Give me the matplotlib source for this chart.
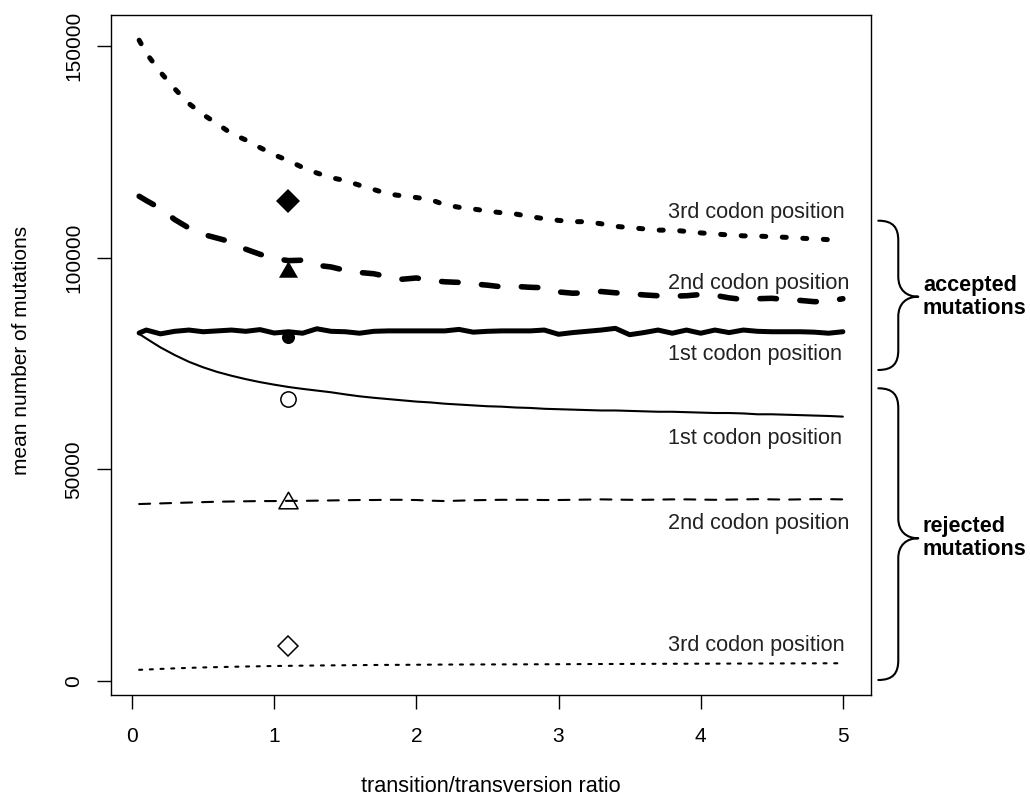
import numpy as np
import matplotlib
matplotlib.use('Agg')
import matplotlib.pyplot as plt
from matplotlib.path import Path
from matplotlib.patches import PathPatch
from matplotlib.transforms import blended_transform_factory

plt.rcParams['font.family'] = ['Liberation Sans', 'DejaVu Sans']
plt.rcParams['lines.scale_dashes'] = False

# ---------------- data ----------------
ratio = [0.05] + [round(0.1 * i, 1) for i in range(1, 51)]

acc_3rd = [151370, 148300, 143800, 139900, 136400, 133800, 131600, 129300, 127800, 126000,
           124300, 122900, 121300, 120000, 118900, 118200, 117100, 116100, 115050, 114600,
           114200, 113700, 112500, 111900, 111500, 111000, 110600, 110300, 109700, 109200,
           108800, 108500, 108500, 108000, 107400, 107100, 106800, 106500, 106500, 106200,
           105850, 105600, 105350, 105150, 105100, 104950, 104800, 104600, 104450, 104250,
           104000]

acc_2nd = [114500, 113500, 111600, 109000, 107000, 105500, 104600, 103700, 102000, 100800,
           99800, 99300, 99400, 98200, 97800, 97000, 96500, 96200, 95500, 94900,
           95200, 94600, 94300, 94150, 93800, 93500, 93100, 93200, 93000, 92900,
           91900, 91600, 91700, 92000, 91700, 91500, 91200, 91000, 90900, 91000,
           91300, 91100, 90500, 90100, 90300, 90400, 90100, 89900, 89600, 89700,
           90300]

acc_1st = [82200, 82900, 82000, 82600, 82900, 82500, 82700, 82900, 82600, 83000,
           82200, 82500, 82150, 83200, 82600, 82500, 82150, 82600, 82700, 82700,
           82700, 82700, 82700, 83050, 82400, 82600, 82700, 82700, 82700, 82900,
           81900, 82300, 82600, 82900, 83300, 81800, 82300, 82900, 82150, 82900,
           82150, 82900, 82300, 82900, 82600, 82500, 82500, 82500, 82400, 82150,
           82500]

rej_1st = [82000, 80900, 78800, 77000, 75400, 74100, 73000, 72100, 71300, 70600,
           70000, 69450, 69000, 68600, 68200, 67700, 67250, 66900, 66600, 66300,
           66000, 65800, 65500, 65300, 65100, 64900, 64800, 64600, 64500, 64300,
           64200, 64100, 64000, 63900, 63900, 63800, 63700, 63600, 63600, 63500,
           63400, 63300, 63300, 63200, 63000, 63000, 62900, 62800, 62700, 62600,
           62450]

rej_2nd = [41800, 41850, 41950, 42050, 42150, 42250, 42350, 42400, 42450, 42500,
           42500, 42550, 42550, 42600, 42650, 42700, 42750, 42750, 42800, 42800,
           42750, 42600, 42500, 42600, 42700, 42750, 42800, 42800, 42800, 42750,
           42750, 42800, 42850, 42900, 42850, 42800, 42800, 42850, 42900, 42900,
           42850, 42800, 42850, 42900, 42950, 42900, 42850, 42900, 42950, 42950,
           42900]

rej_3rd = [2640, 2700, 2850, 2980, 3100, 3200, 3280, 3350, 3420, 3480,
           3540, 3580, 3620, 3660, 3690, 3720, 3750, 3780, 3800, 3820,
           3840, 3860, 3880, 3890, 3900, 3910, 3920, 3930, 3940, 3950,
           3960, 3980, 4000, 4010, 4020, 4040, 4050, 4060, 4070, 4080,
           4090, 4100, 4110, 4120, 4130, 4140, 4150, 4160, 4170, 4180,
           4190]

point_x = 1.1
point_acc = [81190, 97320, 113320]   # 1st, 2nd, 3rd codon position (accepted)
point_rej = [66610, 42760, 8270]     # 1st, 2nd, 3rd codon position (rejected)

label_names = ['1st codon position', '2nd codon position', '3rd codon position']
label_x = 3.77
label_acc_y = [77010, 93950, 110620]
label_rej_y = [57330, 37250, 8500]

xticks = [0, 1, 2, 3, 4, 5]
yticks = [0, 50000, 100000, 150000]
group_labels = ['accepted\nmutations', 'rejected\nmutations']
xlabel = 'transition/transversion ratio'
ylabel = 'mean number of mutations'

# ---------------- figure ----------------
W, H = 1030, 799
fig = plt.figure(figsize=(W / 100, H / 100), dpi=100)
ax = fig.add_axes([111 / W, 1 - 695 / H, 760 / W, 680 / H])

FS = 15
FS_TXT = 15.6
lw_thick = 3.6
lw_thin = 1.5

# accepted (thick)
ax.plot(ratio, acc_3rd, color='k', lw=lw_thick, dashes=(2.9, 11.9),
        dash_capstyle='round', solid_capstyle='round')
ax.plot(ratio, acc_2nd, color='k', lw=4.0, dashes=(11.9, 16.9),
        dash_capstyle='round', solid_capstyle='round')
ax.plot(ratio, acc_1st, color='k', lw=lw_thick, solid_capstyle='round',
        solid_joinstyle='round')
# rejected (thin)
ax.plot(ratio, rej_1st, color='k', lw=lw_thin, solid_capstyle='round')
ax.plot(ratio, rej_2nd, color='k', lw=lw_thin, dashes=(7.9, 7.2),
        dash_capstyle='round')
ax.plot(ratio, rej_3rd, color='k', lw=lw_thin, dashes=(2.2, 5.5),
        dash_capstyle='round')

tri = Path([(0, 0.866), (-1, -0.866), (1, -0.866), (0, 0.866)],
           [Path.MOVETO, Path.LINETO, Path.LINETO, Path.CLOSEPOLY])
# filled points (accepted)
ax.plot([point_x], [point_acc[0]], marker='o', ms=9.4, mfc='k', mec='k', mew=0, ls='none')
ax.plot([point_x], [point_acc[1]], marker=tri, ms=13.7, mfc='k', mec='k', mew=0, ls='none')
ax.plot([point_x], [point_acc[2]], marker='D', ms=11.8, mfc='k', mec='k', mew=0, ls='none')
# open points (rejected)
ax.plot([point_x], [point_rej[0]], marker='o', ms=11, mfc='white', mec='k', mew=1.1, ls='none')
ax.plot([point_x], [point_rej[1]], marker=tri, ms=13.8, mfc='none', mec='k', mew=1.1, ls='none')
ax.plot([point_x], [point_rej[2]], marker='D', ms=10.3, mfc='white', mec='k', mew=1.1, ls='none')

# curve labels
for name, y in zip(label_names, label_acc_y):
    ax.text(label_x, y, name, ha='left', va='center', fontsize=FS_TXT, color='#222222')
for name, y in zip(label_names, label_rej_y):
    ax.text(label_x, y, name, ha='left', va='center', fontsize=FS_TXT, color='#222222')

# limits like R (4% extension)
allx = np.array(ratio)
ally = np.concatenate([acc_1st, acc_2nd, acc_3rd, rej_1st, rej_2nd, rej_3rd])
dx = 0.04 * (allx.max() - allx.min())
dy = 0.04 * (ally.max() - ally.min())
ax.set_xlim(allx.min() - dx, allx.max() + dx)
ax.set_ylim(ally.min() - dy, ally.max() + dy)

ax.set_xticks(xticks)
ax.set_xticklabels([str(t) for t in xticks])
ax.set_yticks(yticks)
ax.set_yticklabels([str(t) for t in yticks], rotation=90, va='center')
ax.tick_params(direction='out', length=10, width=1.0, labelsize=FS, colors='k')
ax.tick_params(axis='x', pad=13)
ax.tick_params(axis='y', pad=10)
for s in ax.spines.values():
    s.set_linewidth(1.0)

ax.set_xlabel(xlabel, fontsize=FS_TXT)
ax.xaxis.set_label_coords(0.5, (695 - 787) / 680)
ax.xaxis.label.set_va('center')
ax.set_ylabel(ylabel, fontsize=FS)
ax.yaxis.set_label_coords((22 - 111) / 760, (695 - 350) / 680)
ax.yaxis.label.set_va('center')

# braces
blend = blended_transform_factory(ax.transAxes, ax.transData)
r = 20 / (680 / (ax.get_ylim()[1] - ax.get_ylim()[0]))
x0, xs, xt = 1.0096, 1.0359, 1.0622


def brace(ybot, ymid, ytop):
    verts = [
        (x0, ytop),
        (x0 + 0.75 * (xs - x0), ytop), (xs, ytop - 0.35 * r), (xs, ytop - r),
        (xs, ymid + r),
        (xs, ymid + 0.35 * r), (xs + 0.4 * (xt - xs), ymid), (xt, ymid),
        (xs + 0.4 * (xt - xs), ymid), (xs, ymid - 0.35 * r), (xs, ymid - r),
        (xs, ybot + r),
        (xs, ybot + 0.35 * r), (x0 + 0.75 * (xs - x0), ybot), (x0, ybot),
    ]
    codes = [Path.MOVETO,
             Path.CURVE4, Path.CURVE4, Path.CURVE4,
             Path.LINETO,
             Path.CURVE4, Path.CURVE4, Path.CURVE4,
             Path.CURVE4, Path.CURVE4, Path.CURVE4,
             Path.LINETO,
             Path.CURVE4, Path.CURVE4, Path.CURVE4]
    p = PathPatch(Path(verts, codes), transform=blend, fill=False, lw=1.5,
                  edgecolor='k', clip_on=False, capstyle='round', joinstyle='round')
    ax.add_patch(p)


brace(73470, 90780, 108730)
brace(236, 33710, 69140)

ax.text(1.0684, 90780, group_labels[0], transform=blend, ha='left', va='center',
        fontsize=FS_TXT, fontweight='bold', linespacing=1.12, clip_on=False)
ax.text(1.0684, 33710, group_labels[1], transform=blend, ha='left', va='center',
        fontsize=FS_TXT, fontweight='bold', linespacing=1.12, clip_on=False)

fig.savefig('out.png', dpi=100)
